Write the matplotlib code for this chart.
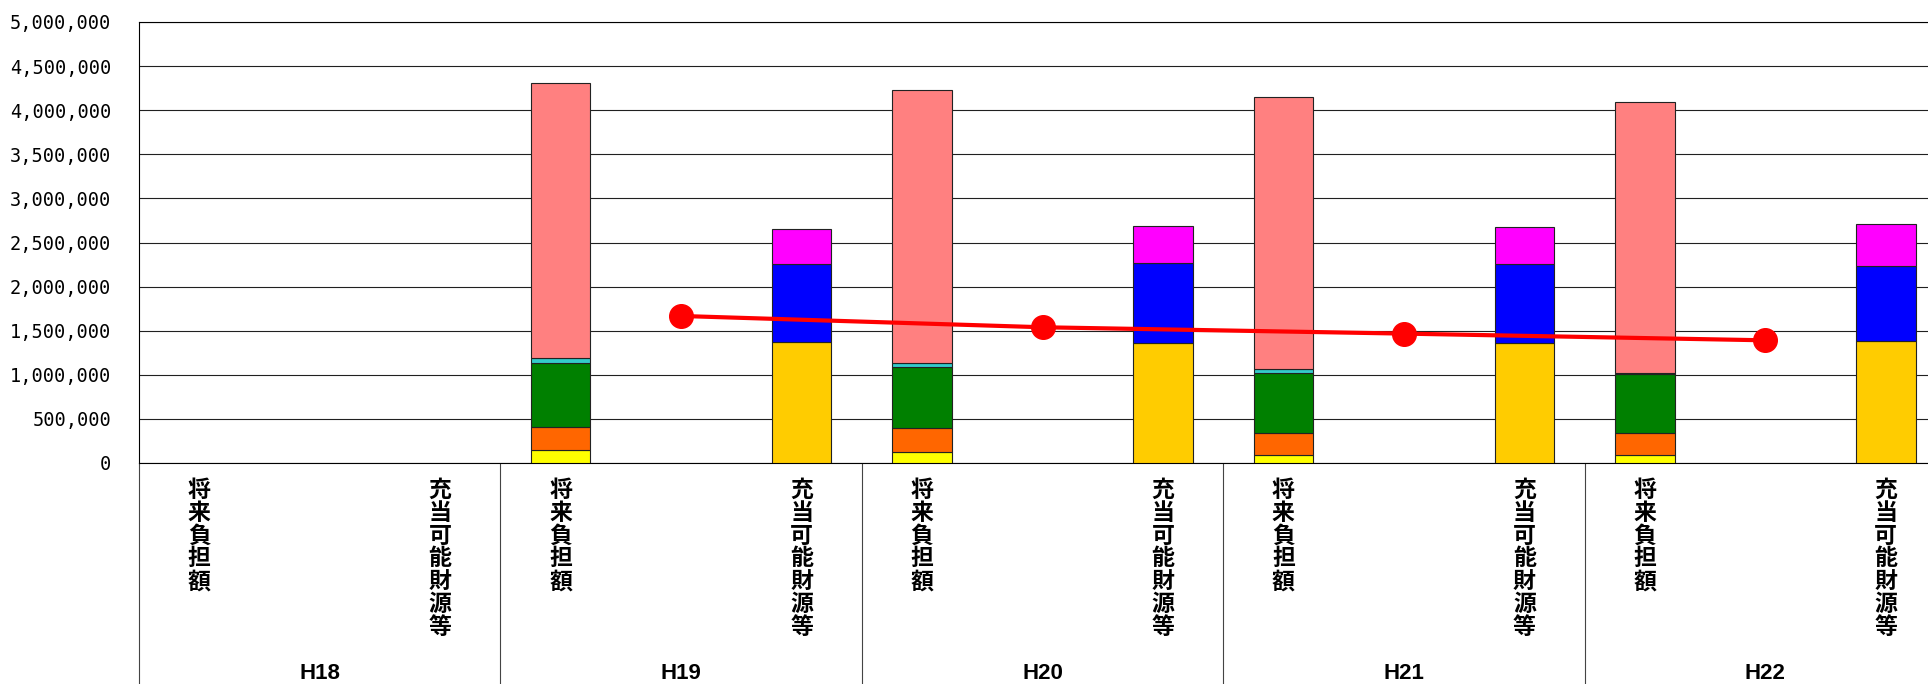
import matplotlib
matplotlib.use("Agg")
import matplotlib.pyplot as plt
import matplotlib.transforms as mtransforms
import numpy as np

# 年度
years = ["H18", "H19", "H20", "H21", "H22"]
cat_future = "将来負担額"
cat_fund = "充当可能財源等"

# 将来負担額の内訳 (下から積み上げ)
fut_yellow = [0, 147000, 128000, 87000, 91000]
fut_orange = [0, 265000, 265000, 257000, 246000]
fut_green = [0, 726000, 699000, 680000, 669000]
fut_cyan = [0, 52000, 38000, 38000, 12000]
fut_pink = [0, 3115000, 3099000, 3083000, 3075000]

# 充当可能財源等の内訳
fund_gold = [0, 1368000, 1361000, 1355000, 1383000]
fund_blue = [0, 892000, 907000, 898000, 851000]
fund_magenta = [0, 390000, 419000, 427000, 476000]

# 折れ線 (H19〜H22)
line_years = ["H19", "H20", "H21", "H22"]
line_vals = [1667000, 1539000, 1467000, 1391000]

fig = plt.figure(figsize=(19.28, 6.84), dpi=100)
ax = fig.add_axes([139 / 1928, 221 / 684, 1807 / 1928, 441 / 684])

n = len(years)
x_fut = np.arange(n) * 2 - 0.167
x_fund = np.arange(n) * 2 + 1 + 0.167
w = 0.33
edge = dict(edgecolor="#222222", linewidth=0.8, zorder=3)

bottom = np.zeros(n)
for vals, col in [(fut_yellow, "#FFFF00"), (fut_orange, "#FF6600"),
                  (fut_green, "#008000"), (fut_cyan, "#33CCCC"),
                  (fut_pink, "#FF8080")]:
    v = np.array(vals, dtype=float)
    ax.bar(x_fut[1:], v[1:], w, bottom=bottom[1:], color=col, **edge)
    bottom += v

bottom = np.zeros(n)
for vals, col in [(fund_gold, "#FFCC00"), (fund_blue, "#0000FF"),
                  (fund_magenta, "#FF00FF")]:
    v = np.array(vals, dtype=float)
    ax.bar(x_fund[1:], v[1:], w, bottom=bottom[1:], color=col, **edge)
    bottom += v

# 折れ線は各年度グループの中央
line_x = [years.index(y) * 2 + 0.5 for y in line_years]
ax.plot(line_x, line_vals, color="#FF0000", linewidth=3, marker="o",
        markersize=17, zorder=5)

ax.set_xlim(-0.5, 2 * n - 0.5)
ax.set_ylim(0, 5000000)
ax.set_yticks(np.arange(0, 5000001, 500000))
ax.set_yticklabels([f"{v:,}" for v in range(0, 5000001, 500000)],
                   family="DejaVu Sans Mono", fontsize=13.4)
ax.tick_params(axis="y", length=0, pad=20)
ax.yaxis.grid(True, color="#202020", linewidth=0.8, zorder=0)
ax.set_axisbelow(True)

# グループ境界の縦線 (x軸目盛を長く伸ばす)
ax.set_xticks(np.arange(0, n) * 2 - 0.5)
ax.set_xticklabels([])
ax.tick_params(axis="x", direction="out", length=160, width=0.8,
               color="#444444")

for s in ["left", "bottom", "top", "right"]:
    ax.spines[s].set_linewidth(0.8)
    ax.spines[s].set_color("black")

trans = mtransforms.blended_transform_factory(ax.transData, ax.transAxes)
for i in range(n):
    ax.text(x_fut[i], -0.036, "\n".join(cat_future), transform=trans,
            ha="center", va="top", fontsize=16.5, fontweight="bold",
            family="Noto Sans CJK JP", linespacing=0.99)
    ax.text(x_fund[i], -0.036, "\n".join(cat_fund), transform=trans,
            ha="center", va="top", fontsize=16.5, fontweight="bold",
            family="Noto Sans CJK JP", linespacing=0.99)
    ax.text(2 * i + 0.5, -0.478, years[i], transform=trans,
            ha="center", va="center", fontsize=16, fontweight="bold",
            family=["Liberation Sans Narrow", "Liberation Sans"])

fig.savefig("out.png", dpi=100)
